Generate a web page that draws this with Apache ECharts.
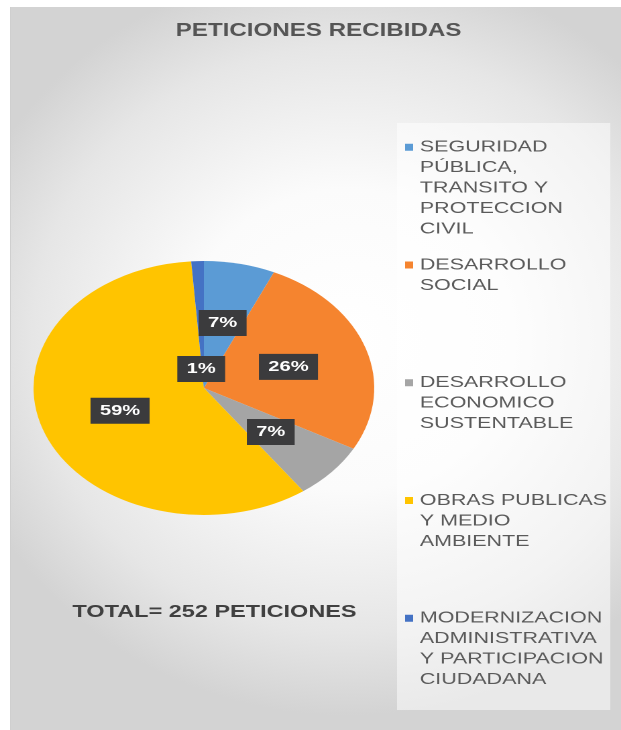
<!DOCTYPE html>
<html>
<head>
<meta charset="utf-8">
<script src="https://cdn.jsdelivr.net/npm/echarts@6/dist/echarts.min.js"></script>
<style>
  html, body { margin: 0; padding: 0; background: #fff; overflow: hidden; }
  #frame {
    position: absolute; left: 10px; top: 7px; width: 611px; height: 723px;
    border-left: 1px solid #cfcfcf;
    background: radial-gradient(ellipse 66% 52% at 55% 46%, #ffffff 0%, #fbfbfb 40%, #e6e6e6 78%, #d3d3d3 100%);
  }
  /* the source picture is stretched sideways, so the chart is drawn narrow and widened */
  #chart {
    position: absolute; left: 0; top: 0; width: 463px; height: 730px;
    transform: scaleX(1.3413); transform-origin: 0 0;
  }
</style>
</head>
<body>
<div id="frame"></div>
<div id="chart"></div>
<script>
// datos
const categories = [
  'SEGURIDAD\nPÚBLICA,\nTRANSITO Y\nPROTECCION\nCIVIL',
  'DESARROLLO\nSOCIAL',
  'DESARROLLO\nECONOMICO\nSUSTENTABLE',
  'OBRAS PUBLICAS\nY MEDIO\nAMBIENTE',
  'MODERNIZACION\nADMINISTRATIVA\nY PARTICIPACION\nCIUDADANA'
];
const values = [17, 66, 18, 148, 3];
const colors = ['#5b9bd5', '#f5842f', '#a5a5a5', '#ffc400', '#4472c4'];

const total = values.reduce((a, b) => a + b, 0);
const font = '"Liberation Sans", Arial, sans-serif';

var chart = echarts.init(document.getElementById('chart'), null, {
  width: 463, height: 730, devicePixelRatio: 2
});

// cada entrada de leyenda ocupa 9 renglones, con el icono en el primero
const legendFormatter = function (name) {
  const n = name.split('\n').length;
  return '\n'.repeat(4) + name + '\n'.repeat(5 - n);
};

const option = {
  backgroundColor: 'transparent',
  title: [
    {
      text: 'PETICIONES RECIBIDAS',
      left: 131,
      top: 22,
      padding: 0,
      textStyle: { fontFamily: font, fontSize: 18, fontWeight: 'bold', color: '#555555' }
    },
    {
      text: 'TOTAL= ' + total + ' PETICIONES',
      left: 54,
      top: 603,
      padding: 0,
      textStyle: { fontFamily: font, fontSize: 17.5, fontWeight: 'bold', color: '#404040' }
    }
  ],
  graphic: [
    {
      type: 'rect',
      left: 296,
      top: 123,
      shape: { width: 159, height: 587 },
      style: { fill: 'rgba(255,255,255,0.5)' },
      z: -1
    }
  ],
  legend: {
    orient: 'vertical',
    left: 302,
    top: 55,
    padding: 0,
    itemGap: -66.75,
    itemWidth: 6,
    itemHeight: 7,
    icon: 'rect',
    selectedMode: false,
    data: categories,
    formatter: legendFormatter,
    textStyle: {
      fontFamily: font,
      fontSize: 16,
      lineHeight: 20.5,
      color: '#5a5a5a'
    }
  },
  series: [
    {
      type: 'pie',
      center: [152, 388],
      radius: 127,
      startAngle: 90,
      clockwise: true,
      percentPrecision: 0,
      silent: true,
      data: categories.map((name, i) => ({
        name: name,
        value: values[i],
        itemStyle: { color: colors[i] },
        label: i === 4 ? { position: 'center' } : undefined
      })),
      itemStyle: { borderWidth: 0 },
      label: {
        show: true,
        position: 'inside',
        formatter: '{d}%',
        fontFamily: font,
        fontSize: 15,
        fontWeight: 'bold',
        color: '#ffffff',
        backgroundColor: '#3b3b3d',
        padding: [6, 7, 5, 7]
      },
      labelLine: { show: false },
      labelLayout: function (params) {
        if (params.dataIndex === 4) {
          return { dx: -2, dy: -19 };
        }
      }
    }
  ]
};

option && chart.setOption(option);
</script>
</body>
</html>
